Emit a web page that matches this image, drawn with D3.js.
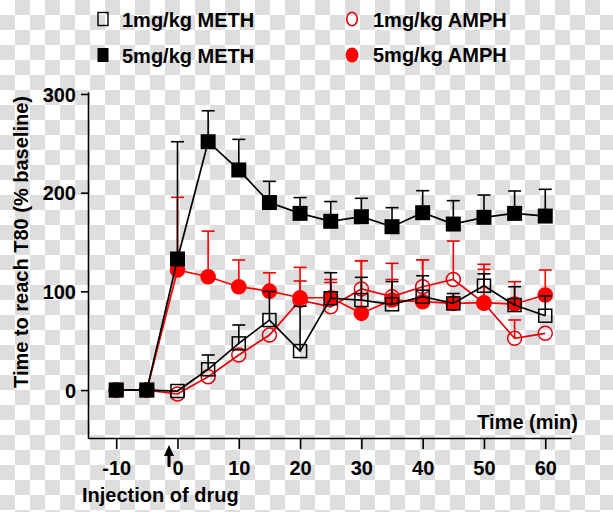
<!DOCTYPE html>
<html>
<head>
<meta charset="utf-8">
<script src="https://cdn.jsdelivr.net/npm/d3@7"></script>
<style>
  html, body { margin: 0; padding: 0; background: #fff; }
  svg { display: block; }
  text { font-family: "Liberation Sans", Arial, Helvetica, sans-serif; font-weight: bold; fill: #000; }
</style>
</head>
<body>
<script>
// ---- data ----
const times    = [-10, -5, 0, 5, 10, 15, 20, 25, 30, 35, 40, 45, 50, 55, 60];
const meth1    = [0, 0, -1, 21, 47.3, 70.9, 39.5, 93, 91.2, 86.9, 94.6, 87.8, 105.7, 86.1, 75.3];
const meth1Err = [0, 0, 0, 14.5, 18.6, 29, 45.5, 25.9, 23, 23, 21.2, 10, 12, 18.6, 20];
const meth5    = [0, 0, 132.8, 251.6, 223, 190, 179, 171, 175.6, 165.5, 179.7, 168.2, 175, 179, 176.3];
const meth5Err = [0, 0, 118.8, 31.4, 31, 21.5, 16, 20, 18.7, 19.3, 22.3, 23.7, 22.6, 22.7, 27.1];
const amph1    = [0, 0, -4, 13.5, 35.5, 55.7, 91, 84.4, 102.4, 94.6, 104.7, 112, 88, 52.4, 57.5];
const amph1Err = [0, 0, 0, 0, 0, 0, 19.5, 24.6, 28.6, 33.8, 27.3, 39, 39.4, 18.6, 0];
const amph5    = [0, 0, 121.6, 114.8, 104.7, 100.2, 93.5, 93.5, 77.7, 91.2, 89.5, 87.8, 88.5, 87.2, 96.3];
const amph5Err = [0, 0, 73.7, 46.2, 27.1, 18.6, 30.8, 18.5, 53.3, 20.8, 42.5, 0, 33.8, 22.6, 25.3];
const xTicks   = [-10, 0, 10, 20, 30, 40, 50, 60];
const yTicks   = [0, 100, 200, 300];
const legendLabels = ["1mg/kg METH", "5mg/kg METH", "1mg/kg AMPH", "5mg/kg AMPH"];

const W = 613, H = 512;
const svg = d3.select("body").append("svg").attr("width", W).attr("height", H);

// checkerboard background
const defs = svg.append("defs");
const pat = defs.append("pattern").attr("id", "chk").attr("patternUnits", "userSpaceOnUse")
  .attr("width", 30).attr("height", 30);
pat.append("rect").attr("width", 30).attr("height", 30).attr("fill", "#ffffff");
pat.append("rect").attr("x", 15).attr("y", 0).attr("width", 15).attr("height", 15).attr("fill", "#dedede");
pat.append("rect").attr("x", 0).attr("y", 15).attr("width", 15).attr("height", 15).attr("fill", "#dedede");
svg.append("rect").attr("width", W).attr("height", H).attr("fill", "url(#chk)");

const x = d3.scaleLinear().domain([-14.6, 64.2]).range([88, 571]);
const y = d3.scaleLinear().domain([-48.6, 302]).range([438, 92]);

// axes
const xAxis = svg.append("g").attr("transform", "translate(0,438)")
  .call(d3.axisBottom(x).tickValues(xTicks).tickFormat(d => String(d)).tickSize(11).tickSizeOuter(0).tickPadding(12));
const yAxis = svg.append("g").attr("transform", "translate(88,0)")
  .call(d3.axisLeft(y).tickValues(yTicks).tickFormat(d => String(d)).tickSize(7).tickSizeOuter(0).tickPadding(5));
[xAxis, yAxis].forEach(g => {
  g.select(".domain").attr("stroke", "#000").attr("stroke-width", 1.6);
  g.selectAll(".tick line").attr("stroke", "#000").attr("stroke-width", 1.6);
  g.selectAll(".tick text").attr("font-size", 20).attr("font-family", '"Liberation Sans", Arial, sans-serif')
    .attr("font-weight", "bold").attr("fill", "#000");
});
yAxis.selectAll(".tick text").attr("dy", "0.36em");

// series drawing
const line = d3.line().x((d, i) => x(times[i])).y(d => y(d));
function errBars(vals, errs, color) {
  const g = svg.append("g");
  vals.forEach((v, i) => {
    if (!errs[i]) return;
    const cx = x(times[i]);
    g.append("line").attr("x1", cx).attr("x2", cx).attr("y1", y(v)).attr("y2", y(v + errs[i]))
      .attr("stroke", color).attr("stroke-width", 1.6);
    g.append("line").attr("x1", cx - 6.5).attr("x2", cx + 6.5).attr("y1", y(v + errs[i])).attr("y2", y(v + errs[i]))
      .attr("stroke", color).attr("stroke-width", 1.6);
  });
}
function series(vals, errs, color, kind) {
  errBars(vals, errs, color);
  svg.append("path").datum(vals).attr("d", line).attr("fill", "none")
    .attr("stroke", color).attr("stroke-width", 1.7);
  const g = svg.append("g");
  vals.forEach((v, i) => {
    const cx = x(times[i]), cy = y(v);
    if (kind === "openCircle") {
      g.append("circle").attr("cx", cx).attr("cy", cy).attr("r", 7).attr("fill", "none")
        .attr("stroke", color).attr("stroke-width", 1.5);
    } else if (kind === "filledCircle") {
      g.append("circle").attr("cx", cx).attr("cy", cy).attr("r", 7.8).attr("fill", color);
    } else if (kind === "openSquare") {
      g.append("rect").attr("x", cx - 6.5).attr("y", cy - 6.5).attr("width", 13).attr("height", 13)
        .attr("fill", "none").attr("stroke", color).attr("stroke-width", 1.5);
    } else {
      g.append("rect").attr("x", cx - 7.5).attr("y", cy - 7.5).attr("width", 15).attr("height", 15)
        .attr("fill", color);
    }
  });
}
series(amph1, amph1Err, "#e8000b", "openCircle");
series(amph5, amph5Err, "#ff0000", "filledCircle");
series(meth1, meth1Err, "#000", "openSquare");
series(meth5, meth5Err, "#000", "filledSquare");

// axis titles
svg.append("text").attr("x", 578).attr("y", 429).attr("text-anchor", "end").attr("font-size", 20).text("Time (min)");
svg.append("text").attr("x", 82).attr("y", 502).attr("font-size", 20).text("Injection of drug");
svg.append("text").attr("transform", "translate(28,242) rotate(-90)").attr("text-anchor", "middle")
  .attr("font-size", 20).text("Time to reach T80 (% baseline)");

// injection arrow
svg.append("line").attr("x1", 169).attr("x2", 169).attr("y1", 454).attr("y2", 467)
  .attr("stroke", "#000").attr("stroke-width", 3);
svg.append("path").attr("d", "M169,445 L164,456 L174,456 Z").attr("fill", "#000");

// legend
const lg = svg.append("g");
lg.append("rect").attr("x", 98).attr("y", 12.5).attr("width", 10).attr("height", 13)
  .attr("fill", "none").attr("stroke", "#000").attr("stroke-width", 1.4);
lg.append("rect").attr("x", 97.5).attr("y", 48).attr("width", 11).attr("height", 14).attr("fill", "#000");
lg.append("ellipse").attr("cx", 352).attr("cy", 19).attr("rx", 5.3).attr("ry", 6.8)
  .attr("fill", "none").attr("stroke", "#e8000b").attr("stroke-width", 1.6);
lg.append("ellipse").attr("cx", 352).attr("cy", 55).attr("rx", 6.5).attr("ry", 7.5).attr("fill", "#ff0000");
const lpos = [[122, 27], [122, 63], [373, 27], [373, 62]];
legendLabels.forEach((t, i) => {
  lg.append("text").attr("x", lpos[i][0]).attr("y", lpos[i][1]).attr("font-size", 20).text(t);
});
</script>
</body>
</html>
